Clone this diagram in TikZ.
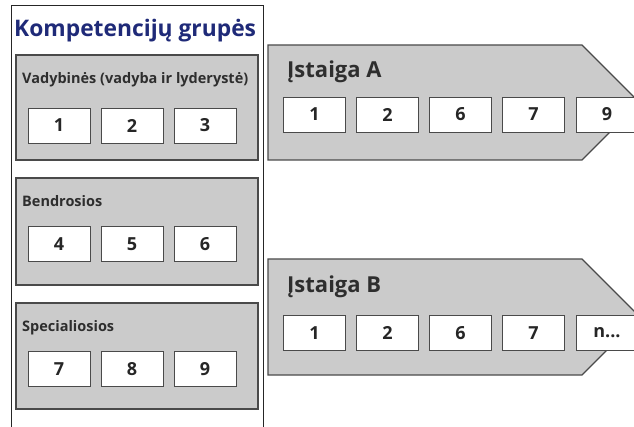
\documentclass[tikz,border=0pt]{standalone}
\usepackage{fontspec}
\setmainfont{Open Sans}
\definecolor{titleblue}{HTML}{1F2A78}
\definecolor{edgegray}{HTML}{4A4A4A}
\definecolor{boxgray}{HTML}{CBCBCB}
\definecolor{labelgray}{HTML}{2E2E2E}
\tikzset{
  panel/.style={draw=black!85, fill=white, line width=0.8pt},
  groupbox/.style={draw=edgegray, fill=boxgray, line width=1.1pt},
  numbox/.style={draw=edgegray, fill=white, line width=0.8pt, rectangle,
    minimum width=62pt, minimum height=35pt, inner sep=0pt,
    font=\fontsize{18}{20}\selectfont\bfseries, text=black!85},
  grouplabel/.style={anchor=base west, inner sep=0pt, text=labelgray,
    font=\fontsize{14.5}{17}\selectfont\bfseries},
  unitlabel/.style={anchor=base west, inner sep=0pt, text=labelgray,
    font=\fontsize{22}{24}\selectfont\bfseries},
}
\begin{document}
\begin{tikzpicture}[x=1pt,y=-1pt]
\useasboundingbox (0,0) rectangle (634,427);
\begin{scope}
\clip (0,0) rectangle (634,427);

% left column: competence groups
\draw[panel] (11,5) rectangle (263,440);
\node[anchor=base west, inner sep=0pt, text=titleblue,
  font=\fontsize{22.8}{25}\selectfont\bfseries] (title) at (14,37) {Kompetencijų grupės};

\draw[groupbox] (16,55) rectangle (258,160);
\node[grouplabel] (g1) at (22,84) {Vadybinės (vadyba ir lyderystė)};
\node[numbox] (g1a) at (59,125.5) {1};
\node[numbox] (g1b) at (132,125.5) {2};
\node[numbox] (g1c) at (205,125.5) {3};

\draw[groupbox] (16,178) rectangle (258,285);
\node[grouplabel] (g2) at (22,207) {Bendrosios};
\node[numbox] (g2a) at (59,244) {4};
\node[numbox] (g2b) at (132,244) {5};
\node[numbox] (g2c) at (205,244) {6};

\draw[groupbox] (16,303) rectangle (258,409);
\node[grouplabel] (g3) at (22,331) {Specialiosios};
\node[numbox] (g3a) at (59,369) {7};
\node[numbox] (g3b) at (132,369) {8};
\node[numbox] (g3c) at (205,369) {9};

% institution A
\draw[groupbox] (268,45) -- (582,45) -- (639.5,102.5) -- (582,160) -- (268,160) -- cycle;
\node[unitlabel] (ua) at (287,78) {Įstaiga A};
\node[numbox] (a1) at (314.5,114.5) {1};
\node[numbox] (a2) at (387.5,114.5) {2};
\node[numbox] (a3) at (460.5,114.5) {6};
\node[numbox] (a4) at (533.5,114.5) {7};
\node[numbox] (a5) at (607,114.5) {9};

% institution B
\draw[groupbox] (268,259) -- (582,259) -- (640,317) -- (582,375) -- (268,375) -- cycle;
\node[unitlabel] (ub) at (287,293) {Įstaiga B};
\node[numbox] (b1) at (314.5,333) {1};
\node[numbox] (b2) at (387.5,333) {2};
\node[numbox] (b3) at (460.5,333) {6};
\node[numbox] (b4) at (533.5,333) {7};
\node[numbox] (b5) at (607,333) {n...};
\end{scope}
\end{tikzpicture}
\end{document}
